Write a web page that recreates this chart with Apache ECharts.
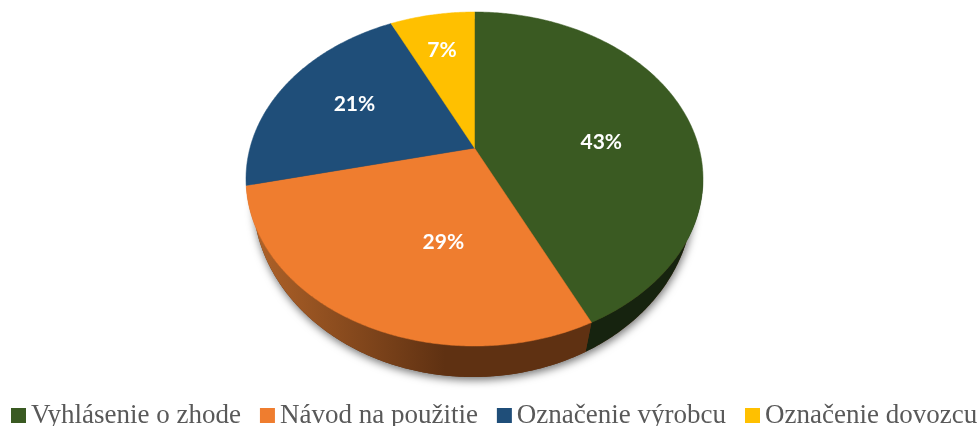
<!DOCTYPE html>
<html><head><meta charset="utf-8">
<style>html,body{margin:0;padding:0;background:#fff}#c{width:978px;height:426px}</style>
<script src="https://cdn.jsdelivr.net/npm/echarts@6/dist/echarts.min.js"></script>
</head><body><div id="c"></div>
<script>
const categories = ['Vyhlásenie o zhode', 'Návod na použitie', 'Označenie výrobcu', 'Označenie dovozcu'];
const shares = [42.86, 28.57, 21.43, 7.14];
const colors = ['#3a5a22', '#ef7d2f', '#1f4e79', '#ffc000'];
const labelTweak = [[9, 0.57], [-12.3, 0.54], [1, 0.63], [-0.6, 0.70]];

const TOP = {cx: 474.5, cy: 179, rx: 228.5, ry: 167};
const BASE = {cx: 473, cy: 198, rx: 220, ry: 179};
const TILT = -31 / 167;
const total = shares.reduce((a, b) => a + b, 0);

function unit(deg) {
  const t = deg * Math.PI / 180, u = Math.sin(t), v = -Math.cos(t), d = 1 + TILT * v;
  return [u * Math.sqrt(1 - TILT * TILT) / d, (v + TILT) / d];
}
function place(e, p) { return [e.cx + e.rx * p[0], e.cy + e.ry * p[1]]; }
function samples(a, b) {
  const out = [], n = Math.ceil((b - a) * 2);
  for (let i = 0; i <= n; i++) out.push(unit(a + (b - a) * i / n));
  return out;
}
const wallFill = [
  '#16230f',
  {type: 'linear', global: true, x: 258, y: 0, x2: 445, y2: 0,
   colorStops: [{offset: 0, color: '#ad6128'}, {offset: 1, color: '#5f3112'}]}
];

function renderSlice(idx) {
  return function (params, api) {
    const value = api.value(0);
    const before = shares.slice(0, idx).reduce((a, b) => a + b, 0);
    const a0 = before / total * 360, a1 = (before + value) / total * 360;
    const rim = samples(a0, a1);
    const children = [];
    if (idx === 0) {
      const full = samples(0, 360).map(p => place(BASE, p));
      children.push({type: 'polygon', shape: {points: full}, silent: true,
        style: {fill: '#5f3112', shadowBlur: 9, shadowOffsetX: 1, shadowOffsetY: 3, shadowColor: 'rgba(0,0,0,0.55)'}});
    }
    const low = rim.filter(p => p[1] >= 0);
    if (low.length > 1) {
      const pts = low.map(p => place(TOP, p)).concat(low.slice().reverse().map(p => place(BASE, p)));
      children.push({type: 'polygon', shape: {points: pts}, style: {fill: wallFill[idx]}});
    }
    const apex = place(TOP, [0, TILT]);
    children.push({type: 'polygon', shape: {points: [apex].concat(rim.map(p => place(TOP, p)))},
      style: {fill: api.visual('color'), stroke: api.visual('color'), lineWidth: 0.5}});
    const tw = labelTweak[idx], mid = (a0 + a1) / 2 + tw[0];
    const t = mid * Math.PI / 180, u = Math.sin(t) * tw[1], v = -Math.cos(t) * tw[1], d = 1 + TILT * v;
    const lp = place(TOP, [u * Math.sqrt(1 - TILT * TILT) / d, (v + TILT) / d]);
    children.push({type: 'text', z2: 10, style: {x: lp[0], y: lp[1], text: Math.round(value) + '%', fill: '#fff',
      font: 'bold 21px Lato', align: 'center', verticalAlign: 'middle'}});
    return {type: 'group', children};
  };
}

const chart = echarts.init(document.getElementById('c'), null, {renderer: 'canvas'});
chart.setOption({
  backgroundColor: '#fff',
  animation: false,
  legend: {
    data: categories, left: 6, top: 397, width: 1100, padding: 5, itemGap: 19, itemWidth: 15, itemHeight: 15,
    icon: 'rect', selectedMode: false, type: 'plain', orient: 'horizontal',
    textStyle: {color: '#595959', fontFamily: 'Liberation Serif', fontSize: 27}
  },
  series: categories.map((name, i) => ({
    type: 'custom', name, coordinateSystem: 'none', silent: true,
    itemStyle: {color: colors[i]},
    data: [[shares[i]]],
    renderItem: renderSlice(i)
  }))
});
</script></body></html>
